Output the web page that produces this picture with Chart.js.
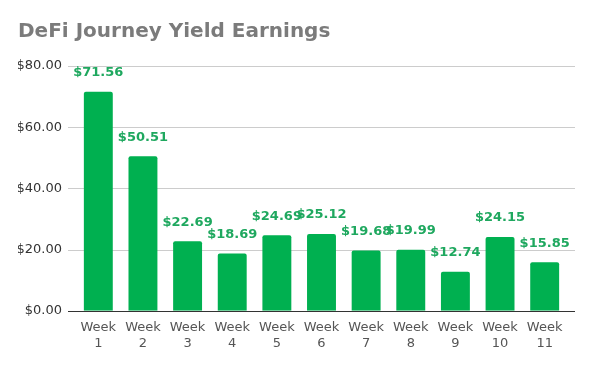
<!DOCTYPE html>
<html>
<head>
<meta charset="utf-8">
<script src="https://cdn.jsdelivr.net/npm/chart.js@4"></script>
<style>
  body { margin: 0; background: #fff; }
  #wrap { width: 593px; height: 367px; }
</style>
</head>
<body>
<div id="wrap"><canvas id="grafik" width="593" height="367"></canvas></div>
<script>
const weeks = [["Week", "1"], ["Week", "2"], ["Week", "3"], ["Week", "4"], ["Week", "5"], ["Week", "6"],
  ["Week", "7"], ["Week", "8"], ["Week", "9"], ["Week", "10"], ["Week", "11"]];
const earnings = [71.56, 50.51, 22.69, 18.69, 24.69, 25.12, 19.68, 19.99, 12.74, 24.15, 15.85];
const yTicks = [0, 20, 40, 60, 80];

const lebihGaris = 8; // garis grid sedikit lebih panjang dari area batang

// garis grid + sumbu bawah, digambar sendiri supaya melebar ke kiri/kanan
const garisGrid = {
  id: "garisGrid",
  beforeDatasetsDraw(chart) {
    const ctx = chart.ctx;
    const area = chart.chartArea;
    const y = chart.scales.y;
    ctx.save();
    ctx.lineWidth = 1;
    ctx.strokeStyle = "#cccccc";
    yTicks.forEach(v => {
      if (v === 0) return;
      const py = Math.round(y.getPixelForValue(v)) + 0.5;
      ctx.beginPath();
      ctx.moveTo(area.left - lebihGaris, py);
      ctx.lineTo(area.right + lebihGaris, py);
      ctx.stroke();
    });
    ctx.restore();
  },
  afterDatasetsDraw(chart) {
    const ctx = chart.ctx;
    const area = chart.chartArea;
    const py = Math.round(chart.scales.y.getPixelForValue(0)) + 0.5;
    ctx.save();
    ctx.lineWidth = 1;
    ctx.strokeStyle = "#333333";
    ctx.beginPath();
    ctx.moveTo(area.left - lebihGaris, py);
    ctx.lineTo(area.right + lebihGaris, py);
    ctx.stroke();
    ctx.restore();
  }
};

// label nilai di atas tiap batang
const labelAtas = {
  id: "labelAtas",
  afterDatasetsDraw(chart) {
    const ctx = chart.ctx;
    const meta = chart.getDatasetMeta(0);
    ctx.save();
    ctx.font = "bold 13px 'DejaVu Sans'";
    ctx.fillStyle = "#1fa85f";
    ctx.textAlign = "center";
    ctx.textBaseline = "middle";
    meta.data.forEach((bar, i) => {
      ctx.fillText("$" + earnings[i].toFixed(2), bar.x, bar.y - 19);
    });
    ctx.restore();
  }
};

new Chart(document.getElementById("grafik"), {
  type: "bar",
  data: {
    labels: weeks,
    datasets: [{
      data: earnings,
      backgroundColor: "#00b050",
      borderRadius: { topLeft: 2, topRight: 2 },
      borderSkipped: "start",
      categoryPercentage: 0.72,
      barPercentage: 0.9
    }]
  },
  options: {
    responsive: false,
    animation: false,
    layout: { padding: { left: 18, right: 26, top: 0, bottom: 7 } },
    plugins: {
      legend: { display: false },
      tooltip: { enabled: false },
      title: {
        display: true,
        text: "DeFi Journey Yield Earnings",
        align: "start",
        color: "#7b7b7b",
        font: { family: "'DejaVu Sans'", size: 20, weight: "bold", lineHeight: 1.2 },
        padding: { top: 20, bottom: 22 }
      }
    },
    scales: {
      x: {
        grid: { display: false, drawTicks: false },
        border: { display: false },
        ticks: {
          color: "#555555",
          font: { family: "'DejaVu Sans'", size: 13, lineHeight: 1.2 },
          padding: 9,
          maxRotation: 0
        }
      },
      y: {
        min: 0,
        max: 80,
        afterBuildTicks: (axis) => { axis.ticks = yTicks.map(v => ({ value: v })); },
        afterFit: (axis) => { axis.width = 58; },
        grid: { display: false, drawTicks: false },
        border: { display: false },
        ticks: {
          color: "#333333",
          font: { family: "'DejaVu Sans'", size: 13 },
          padding: 14,
          callback: (v) => "$" + Number(v).toFixed(2)
        }
      }
    }
  },
  plugins: [garisGrid, labelAtas]
});
</script>
</body>
</html>
